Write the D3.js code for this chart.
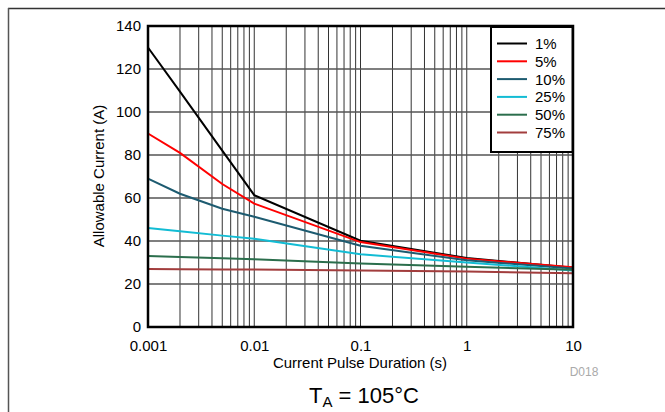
<!DOCTYPE html>
<html><head><meta charset="utf-8">
<script src="https://cdn.jsdelivr.net/npm/d3@7"></script>
<style>body{margin:0;background:#fff}svg{display:block;font-family:"Liberation Sans",Arial,sans-serif}</style>
</head><body><svg id="c" width="665" height="412"></svg>
<script>
const durations = [0.001, 0.002, 0.005, 0.01, 0.1, 1, 10];
const seriesNames = ["1%", "5%", "10%", "25%", "50%", "75%"];
const seriesColors = ["#000000", "#ff0000", "#1d5b70", "#12bcd4", "#2b6e4c", "#a23d3d"];
const s1 = [130, 109.5, 82, 61.3, 40.1, 32.1, 27.6];
const s5 = [90, 81, 66.5, 57.4, 39.5, 31.8, 27.8];
const s10 = [69, 62, 55, 51.3, 37.8, 31.0, 27.2];
const s25 = [46, 44.5, 42.5, 41.0, 33.8, 30.0, 26.3];
const s50 = [33, 32.6, 32.0, 31.5, 29.5, 28.0, 26.6];
const s75 = [27, 26.9, 26.8, 26.7, 26.3, 25.8, 25.0];
const seriesValues = [s1, s5, s10, s25, s50, s75];
const xTicks = [0.001, 0.01, 0.1, 1, 10];
const xTickLabels = ["0.001", "0.01", "0.1", "1", "10"];
const yTicks = [0, 20, 40, 60, 80, 100, 120, 140];

const FONT = "Liberation Sans, Arial, sans-serif";
const svg = d3.select("#c");
const L = 148, R = 573, T = 26, B = 327;
const x = d3.scaleLog().domain([0.001, 10]).range([L, R]);
const y = d3.scaleLinear().domain([0, 140]).range([B, T]);

// outer frame
svg.append("line").attr("x1", 8).attr("x2", 665).attr("y1", 8.5).attr("y2", 8.5).attr("stroke", "#333").attr("stroke-width", 1.5);
svg.append("line").attr("x1", 8.5).attr("x2", 8.5).attr("y1", 8).attr("y2", 412).attr("stroke", "#555").attr("stroke-width", 1.5);

// grid
const minor = [];
for (let e = -3; e < 1; e++) for (let m = 1; m < 10; m++) minor.push(m * Math.pow(10, e));
minor.push(10);
const g = svg.append("g");
g.selectAll(".vx").data(minor).join("line")
  .attr("x1", d => x(d)).attr("x2", d => x(d)).attr("y1", T).attr("y2", B)
  .attr("stroke", "#333").attr("stroke-width", 1);
g.selectAll(".hy").data(yTicks).join("line")
  .attr("x1", L).attr("x2", R).attr("y1", d => y(d)).attr("y2", d => y(d))
  .attr("stroke", "#555").attr("stroke-width", 1.4);

// lines
const line = d3.line().x((d, i) => x(durations[i])).y(d => y(d));
seriesValues.forEach((vals, k) => {
  svg.append("path").datum(vals).attr("d", line).attr("fill", "none")
    .attr("stroke", seriesColors[k]).attr("stroke-width", 2);
});

// plot frame
svg.append("rect").attr("x", L).attr("y", T).attr("width", R - L).attr("height", B - T)
  .attr("fill", "none").attr("stroke", "#000").attr("stroke-width", 2.5);

// axes labels
const ax = d3.axisBottom(x).tickValues(xTicks).tickFormat((d, i) => xTickLabels[i]).tickSize(0).tickPadding(13);
const gx = svg.append("g").attr("transform", `translate(0,${B})`).call(ax)
  .attr("font-size", 15).attr("font-family", FONT);
gx.select(".domain").remove();
gx.selectAll("text").attr("fill", "#000");
const ay = d3.axisLeft(y).tickValues(yTicks).tickSize(0).tickPadding(7);
const gy = svg.append("g").attr("transform", `translate(${L},0)`).call(ay)
  .attr("font-size", 15).attr("font-family", FONT);
gy.select(".domain").remove();
gy.selectAll("text").attr("fill", "#000");

svg.append("text").attr("x", 360).attr("y", 368).attr("text-anchor", "middle").attr("font-size", 15).text("Current Pulse Duration (s)");
svg.append("text").attr("transform", "translate(104,176) rotate(-90)").attr("text-anchor", "middle").attr("font-size", 15).text("Allowable Current (A)");
svg.append("text").attr("x", 584).attr("y", 375.5).attr("text-anchor", "middle").attr("font-size", 12).attr("fill", "#aaa").text("D018");
const cap = svg.append("text").attr("x", 364).attr("y", 403).attr("text-anchor", "middle").attr("font-size", 22);
cap.append("tspan").text("T");
cap.append("tspan").attr("font-size", 15).attr("dy", 4).text("A");
cap.append("tspan").attr("dy", -4).text(" = 105°C");

// legend
const lg = svg.append("g");
lg.append("rect").attr("x", 491).attr("y", 27).attr("width", 81.5).attr("height", 125)
  .attr("fill", "#fff").attr("stroke", "#000").attr("stroke-width", 2);
seriesNames.forEach((n, k) => {
  const yy = 43.5 + k * 17.8;
  lg.append("line").attr("x1", 497).attr("x2", 527).attr("y1", yy).attr("y2", yy)
    .attr("stroke", seriesColors[k]).attr("stroke-width", 2);
  lg.append("text").attr("x", 535).attr("y", yy + 5.5).attr("font-size", 15).text(n);
});
</script></body></html>
